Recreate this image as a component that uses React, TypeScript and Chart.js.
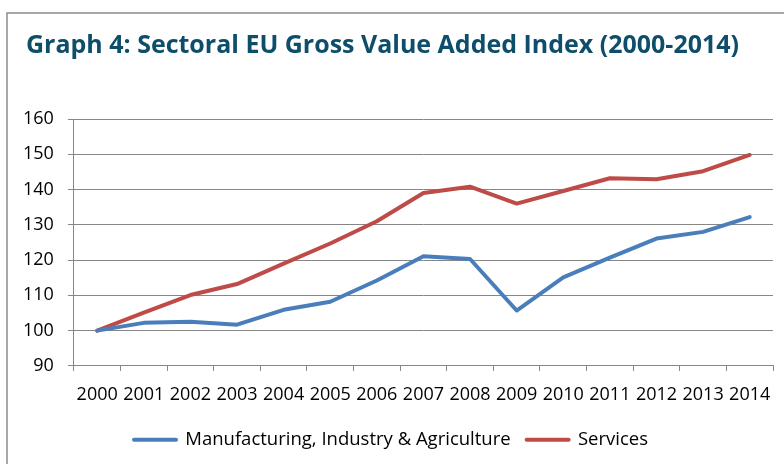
import React, { useEffect, useRef } from "react";
import { Chart, registerables } from "chart.js";

Chart.register(...registerables);

const TITLE = "Graph 4: Sectoral EU Gross Value Added Index (2000-2014)";
const years = ["2000","2001","2002","2003","2004","2005","2006","2007","2008","2009","2010","2011","2012","2013","2014"];
const manufacturing = [100, 102.2, 102.5, 101.7, 105.9, 108.2, 114.2, 121.1, 120.3, 105.7, 115.1, 120.7, 126.1, 128, 132.2];
const services = [100, 105.1, 110.1, 113.2, 119, 124.7, 131, 139, 140.8, 136, 139.6, 143.2, 142.9, 145.2, 149.8];
const seriesNames = ["Manufacturing, Industry & Agriculture", "Services"];
const yMin = 90;
const yMax = 160;
const yStep = 10;

const BLUE = "#4A7EBB";
const RED = "#BE4B48";
const GRID = "#868686";

const framePlugin = {
  id: "frameAndTitle",
  afterDraw(chart: any) {
    const ctx = chart.ctx;
    ctx.save();
    ctx.strokeStyle = "#8c8c8c";
    ctx.lineWidth = 1.5;
    ctx.strokeRect(7, 13, 900, 600);
    ctx.font = "bold 25px 'Open Sans'";
    ctx.fillStyle = "#0E4E6B";
    ctx.textBaseline = "alphabetic";
    const w = ctx.measureText(TITLE).width;
    const target = 713;
    ctx.translate(26, 53);
    ctx.scale(target / w, 1);
    ctx.fillText(TITLE, 0, 0);
    ctx.restore();
  },
};

export default function App() {
  const ref = useRef<HTMLCanvasElement>(null);
  useEffect(() => {
    document.body.style.margin = "0";
    const chart = new Chart(ref.current!, {
      type: "line",
      data: {
        labels: years,
        datasets: [
          { label: seriesNames[0], data: manufacturing, borderColor: BLUE, backgroundColor: BLUE, borderWidth: 4, pointRadius: 0, tension: 0, borderCapStyle: "round", borderJoinStyle: "round" },
          { label: seriesNames[1], data: services, borderColor: RED, backgroundColor: RED, borderWidth: 4, pointRadius: 0, tension: 0, borderCapStyle: "round", borderJoinStyle: "round" },
        ],
      },
      options: {
        animation: false,
        responsive: false,
        layout: { padding: { left: 9, right: 11, top: 119, bottom: 5 } },
        plugins: {
          title: { display: false },
          tooltip: { enabled: false },
          legend: {
            position: "bottom",
            labels: {
              color: "#000",
              font: { family: "'Open Sans'", size: 18.5 },
              padding: 16,
              usePointStyle: true,
              pointStyleWidth: 42,
              generateLabels: (c: any) =>
                c.data.datasets.map((ds: any, i: number) => ({
                  text: ds.label,
                  fillStyle: ds.borderColor,
                  strokeStyle: ds.borderColor,
                  lineWidth: 4,
                  lineCap: "round",
                  pointStyle: "line",
                  datasetIndex: i,
                  hidden: false,
                  fontColor: "#000",
                })),
            },
          },
        },
        scales: {
          x: {
            offset: true,
            afterFit: (scale: any) => { scale.height -= 4; },
            grid: { display: true, drawOnChartArea: false, drawTicks: true, tickLength: 5, offset: true, color: GRID },
            border: { display: true, color: GRID, width: 1 },
            ticks: { autoSkip: false, maxRotation: 0, color: "#000", font: { family: "'Open Sans'", size: 18 }, padding: 13 },
          },
          y: {
            min: yMin,
            max: yMax,
            grid: { color: GRID, lineWidth: 1, tickLength: 6 },
            border: { display: true, color: GRID, width: 1 },
            ticks: { stepSize: yStep, color: "#000", font: { family: "'Open Sans'", size: 18 }, padding: 14 },
          },
        },
      },
      plugins: [framePlugin],
    });
    return () => chart.destroy();
  }, []);
  return (
    <div style={{ position: "absolute", left: 0, top: 0, width: 784, height: 464, background: "#fff" }}>
      <canvas ref={ref} width={784} height={464} />
    </div>
  );
}
